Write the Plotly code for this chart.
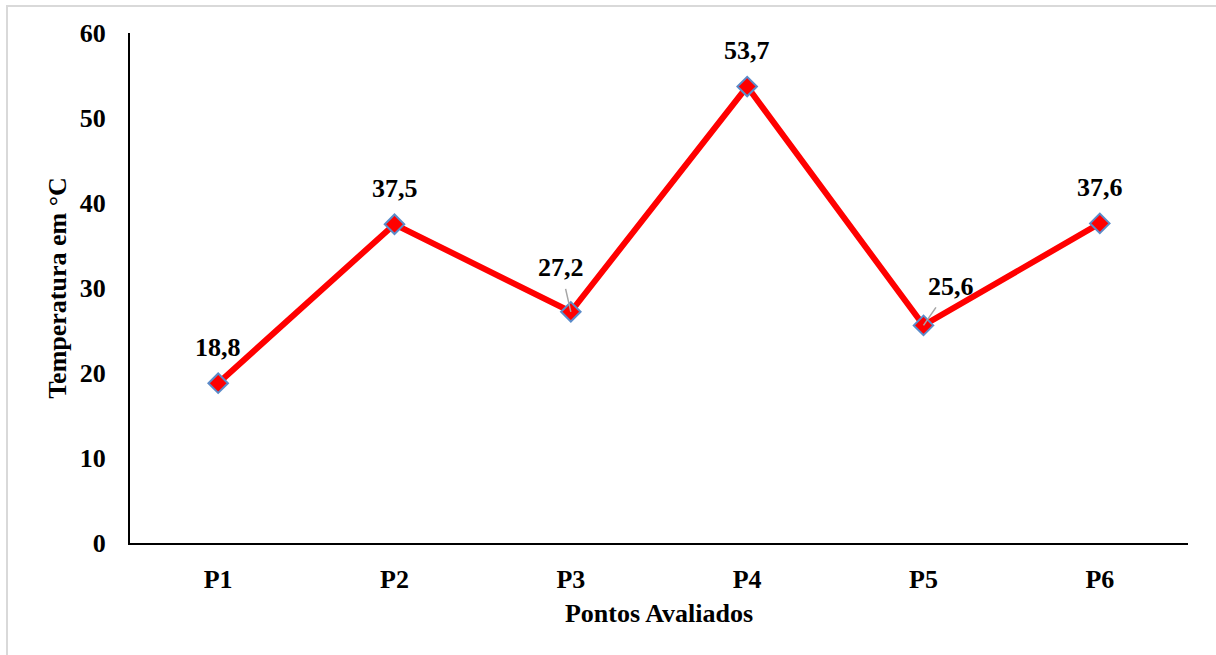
import plotly.graph_objects as go

categories = ["P1", "P2", "P3", "P4", "P5", "P6"]
temperatures = [18.8, 37.5, 27.2, 53.7, 25.6, 37.6]
value_labels = ["18,8", "37,5", "27,2", "53,7", "25,6", "37,6"]
y_ticks = [0, 10, 20, 30, 40, 50, 60]

FONT = "Liberation Serif, Times New Roman, serif"
FS = 26

fig = go.Figure()
fig.add_trace(go.Scatter(
    x=categories, y=temperatures, mode="lines+markers",
    line=dict(color="#FF0000", width=6),
    marker=dict(symbol="diamond", size=15, color="#FF0000",
                line=dict(color="#5B8BC9", width=2)),
    hoverinfo="skip", showlegend=False,
))

# label offsets (pixels) relative to the point
offsets = {0: (0, -36), 1: (0, -36), 2: (-10, -44), 3: (0, -36), 4: (27, -39), 5: (0, -36)}
leader = {2, 4}
for i, (c, v, t) in enumerate(zip(categories, temperatures, value_labels)):
    ax, ay = offsets[i]
    fig.add_annotation(
        x=c, y=v, text="<b>%s</b>" % t, xref="x", yref="y",
        showarrow=True, ax=ax, ay=ay, axref="pixel", ayref="pixel",
        arrowhead=0, arrowwidth=1.5,
        arrowcolor="#A6A6A6" if i in leader else "rgba(0,0,0,0)",
        borderpad=6 if i in leader else 1,
        font=dict(family=FONT, size=FS, color="black"),
    )

# outer light gray frame
fig.add_shape(type="rect", xref="paper", yref="paper",
              x0=(7 - 130) / 1058, x1=(1230 - 130) / 1058,
              y0=(543 - 670) / 510, y1=(543 - 6) / 510,
              line=dict(color="#D9D9D9", width=2), fillcolor="rgba(0,0,0,0)",
              layer="below")

fig.update_layout(
    width=1216, height=655,
    margin=dict(l=130, r=28, t=33, b=112),
    paper_bgcolor="white", plot_bgcolor="white",
    font=dict(family=FONT, size=FS, color="black"),
    xaxis=dict(
        type="category", range=[-0.5, 5.5],
        showline=True, linecolor="black", linewidth=2,
        showgrid=False, zeroline=False, ticks="",
        tickfont=dict(family=FONT, size=FS, color="black"),
        ticklabelstandoff=12,
        tickvals=categories, ticktext=["<b>%s</b>" % c for c in categories],
        title=dict(text="<b>Pontos Avaliados</b>", standoff=11,
                   font=dict(family=FONT, size=FS, color="black")),
    ),
    yaxis=dict(
        range=[0, 60], tickvals=y_ticks,
        ticktext=["<b>%d</b>" % v for v in y_ticks],
        showline=True, linecolor="black", linewidth=2,
        showgrid=False, zeroline=False, ticks="",
        tickfont=dict(family=FONT, size=FS, color="black"),
        ticklabelstandoff=17,
        title=dict(text="<b>Temperatura em °C</b>", standoff=6,
                   font=dict(family=FONT, size=FS, color="black")),
    ),
)

fig.write_html("out.html")
